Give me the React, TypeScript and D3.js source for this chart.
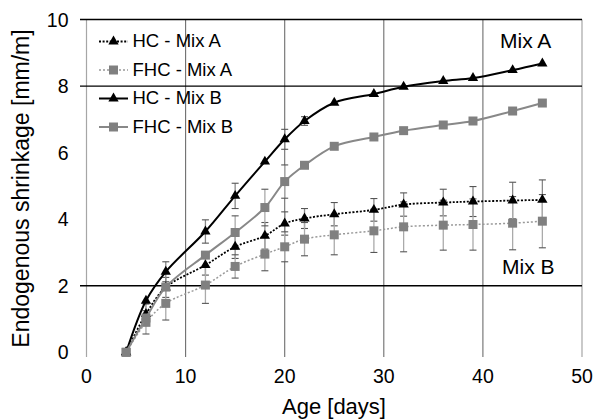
import React from "react";
import * as d3 from "d3";

const days = [4, 6, 8, 12, 15, 18, 20, 22, 25, 29, 32, 36, 39, 43, 46];
const hcA = [0, 1.15, 1.95, 2.62, 3.17, 3.5, 3.87, 4.02, 4.15, 4.28, 4.44, 4.5, 4.53, 4.56, 4.58];
const fhcA = [0, 0.9, 1.47, 2.02, 2.58, 2.95, 3.17, 3.4, 3.53, 3.65, 3.77, 3.82, 3.84, 3.88, 3.94];
const hcB = [0, 1.55, 2.42, 3.63, 4.7, 5.73, 6.4, 6.95, 7.5, 7.76, 7.98, 8.15, 8.24, 8.48, 8.68];
const fhcB = [0, 1.03, 1.96, 2.92, 3.6, 4.35, 5.13, 5.62, 6.19, 6.47, 6.66, 6.83, 6.95, 7.25, 7.49];
const hcAErr = [0, 0.3, 0.3, 0.3, 0.35, 0.4, 0.35, 0.3, 0.35, 0.34, 0.35, 0.4, 0.45, 0.55, 0.6];
const fhcAErr = [0, 0.35, 0.5, 0.55, 0.35, 0.5, 0.45, 0.5, 0.6, 0.65, 0.75, 0.75, 0.77, 0.8, 0.8];
const hcBErr = [0, 0, 0.3, 0.35, 0.38, 0, 0.3, 0.13, 0, 0, 0, 0, 0, 0, 0];
const fhcBErr = [0, 0, 0, 0, 0.5, 0.55, 0.5, 0, 0, 0, 0, 0, 0, 0, 0];
const seriesNames = ["HC - Mix A", "FHC - Mix A", "HC - Mix B", "FHC - Mix B"];
const xTicks = [0, 10, 20, 30, 40, 50];
const yTicks = [0, 2, 4, 6, 8, 10];
const hLines = [2, 8, 10];
const vLines = [10, 20, 30, 40];

const FONT = "'Liberation Sans', Arial, sans-serif";

export default function App() {
  const x = d3.scaleLinear().domain([0, 50]).range([86.5, 582]);
  const y = d3.scaleLinear().domain([0, 10]).range([352.3, 19.5]);
  const line = d3
    .line<number>()
    .x((_, i) => x(days[i]))
    .y((v) => y(v))
    .curve(d3.curveCatmullRom.alpha(0.5));
  const tri = d3.symbol().type(d3.symbolTriangle).size(46)() as string;
  const sq = d3.symbol().type(d3.symbolSquare).size(81)() as string;

  const series = [
    { name: seriesNames[0], vals: hcA, err: hcAErr, color: "#000", w: 1.8, dash: "2,1.6", sym: tri, mcolor: "#000", ecolor: "#888" },
    { name: seriesNames[1], vals: fhcA, err: fhcAErr, color: "#999", w: 1.5, dash: "2,2", sym: sq, mcolor: "#808080", ecolor: "#aaa" },
    { name: seriesNames[2], vals: hcB, err: hcBErr, color: "#000", w: 2, dash: null, sym: tri, mcolor: "#000", ecolor: "#888" },
    { name: seriesNames[3], vals: fhcB, err: fhcBErr, color: "#888", w: 2, dash: null, sym: sq, mcolor: "#808080", ecolor: "#aaa" },
  ];

  return (
    <svg width={595} height={420} style={{ position: "absolute", left: 0, top: 0, background: "#fff" }} fontFamily={FONT}>
      <rect width={595} height={420} fill="#fff" />
      {/* left axis and right border */}
      <line x1={x(0)} x2={x(0)} y1={y(10)} y2={357} stroke="#a6a6a6" strokeWidth={1.2} />
      <line x1={x(50)} x2={x(50)} y1={y(10)} y2={357} stroke="#a6a6a6" strokeWidth={1.2} />
      {vLines.map((v) => (
        <line key={"v" + v} x1={x(v)} x2={x(v)} y1={y(10)} y2={357} stroke="#6e6e6e" strokeWidth={1.1} />
      ))}
      {hLines.map((v) => (
        <line key={"h" + v} x1={80} x2={x(50)} y1={y(v)} y2={y(v)} stroke="#000" strokeWidth={1.3} />
      ))}
      {yTicks.map((v) => (
        <text key={"yt" + v} x={68.5} y={y(v) + 7} fontSize={19.5} textAnchor="end" fill="#000">
          {v}
        </text>
      ))}
      {xTicks.map((v) => (
        <text key={"xt" + v} x={x(v)} y={383} fontSize={19.5} textAnchor="middle" fill="#000">
          {v}
        </text>
      ))}
      <text x={334} y={414} fontSize={22} textAnchor="middle" fill="#000">
        Age [days]
      </text>
      <text transform={`translate(29,188.5) rotate(-90)`} fontSize={23} textAnchor="middle" fill="#000">
        Endogenous shrinkage [mm/m]
      </text>

      {/* error bars */}
      {series.map((s, si) =>
        s.vals.map((v, i) =>
          s.err[i] > 0 ? (
            <g key={`e${si}-${i}`}>
              <line x1={x(days[i])} x2={x(days[i])} y1={y(v - s.err[i])} y2={y(v + s.err[i])} stroke={s.ecolor} strokeWidth={1.3} />
              <line x1={x(days[i]) - 3.5} x2={x(days[i]) + 3.5} y1={y(v - s.err[i])} y2={y(v - s.err[i])} stroke="#555" strokeWidth={1.1} />
              <line x1={x(days[i]) - 3.5} x2={x(days[i]) + 3.5} y1={y(v + s.err[i])} y2={y(v + s.err[i])} stroke="#555" strokeWidth={1.1} />
            </g>
          ) : null
        )
      )}

      {/* lines and markers */}
      {series.map((s, si) => (
        <g key={"s" + si}>
          <path d={line(s.vals) as string} fill="none" stroke={s.color} strokeWidth={s.w} strokeDasharray={s.dash ?? undefined} />
          {s.vals.map((v, i) => (
            <path key={i} d={s.sym} transform={`translate(${x(days[i])},${y(v)})`} fill={s.mcolor} />
          ))}
        </g>
      ))}

      {/* legend */}
      {series.map((s, si) => {
        const ly = 41.5 + si * 28.5;
        return (
          <g key={"l" + si}>
            <line x1={99} x2={128} y1={ly} y2={ly} stroke={s.color} strokeWidth={s.w} strokeDasharray={s.dash ?? undefined} />
            <path d={s.sym} transform={`translate(113.5,${ly})`} fill={s.mcolor} />
            <text x={132.5} y={ly + 5.5} fontSize={18.5} fill="#000">
              {s.name}
            </text>
          </g>
        );
      })}
      <text x={500} y={48} fontSize={21} fill="#000">
        Mix A
      </text>
      <text x={502} y={274} fontSize={21} fill="#000">
        Mix B
      </text>
    </svg>
  );
}
